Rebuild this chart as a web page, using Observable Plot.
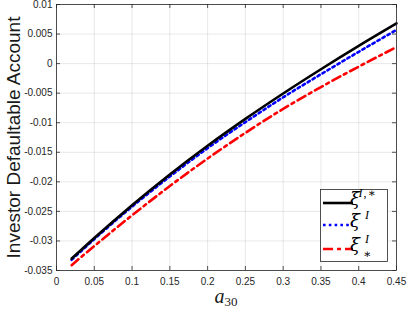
<!DOCTYPE html>
<html><head><meta charset="utf-8">
<script src="https://cdn.jsdelivr.net/npm/d3@7"></script>
<script src="https://cdn.jsdelivr.net/npm/@observablehq/plot@0.6"></script>
<style>html,body{margin:0;padding:0;background:#fff} svg{display:block}</style>
</head><body><div id="chart"></div>
<script>
const a30 = [0.02, 0.05, 0.10, 0.15, 0.20, 0.25, 0.30, 0.35, 0.40, 0.45];
const xiIStar = [-0.0330, -0.0295, -0.02395, -0.01875, -0.0139, -0.00935, -0.00505, -0.00095, 0.0030, 0.0068];
const xiI     = [-0.0332, -0.0297, -0.0242, -0.0191, -0.0143, -0.0099, -0.0057, -0.0018, 0.0020, 0.0057];
const xiStarI = [-0.0341, -0.03086, -0.02566, -0.02071, -0.01606, -0.01171, -0.00766, -0.00396, -0.00051, 0.0028];
const xTicks = [0, 0.05, 0.10, 0.15, 0.20, 0.25, 0.30, 0.35, 0.40, 0.45];
const xTickLabels = ["0", "0.05", "0.1", "0.15", "0.2", "0.25", "0.3", "0.35", "0.4", "0.45"];
const yTicks = [-0.035, -0.03, -0.025, -0.02, -0.015, -0.01, -0.005, 0, 0.005, 0.01];
const yTickLabels = ["-0.035", "-0.03", "-0.025", "-0.02", "-0.015", "-0.01", "-0.005", "0", "0.005", "0.01"];
const yLabel = "Investor Defaultable Account";

const W = 407, H = 309, mL = 56, mR = 11, mT = 4, mB = 39;
const fw = W - mL - mR, fh = H - mT - mB;
const axisColor = "#262626";

const mk = (vals) => a30.map((a, i) => ({a, v: vals[i]}));

const plot = Plot.plot({
  width: W, height: H,
  marginLeft: mL, marginRight: mR, marginTop: mT, marginBottom: mB,
  style: {fontFamily: "'Liberation Sans', Arial, sans-serif", background: "#fff", overflow: "visible"},
  x: {domain: [0, 0.45]},
  y: {domain: [-0.035, 0.01]},
  marks: [
    Plot.gridX(xTicks, {stroke: "#000", strokeOpacity: 0.12, strokeWidth: 0.8}),
    Plot.gridY(yTicks, {stroke: "#000", strokeOpacity: 0.12, strokeWidth: 0.8}),
    Plot.ruleX(xTicks, {insetTop: fh - 4, stroke: axisColor, strokeWidth: 0.8}),
    Plot.ruleX(xTicks, {insetBottom: fh - 4, stroke: axisColor, strokeWidth: 0.8}),
    Plot.ruleY(yTicks, {insetRight: fw - 4, stroke: axisColor, strokeWidth: 0.8}),
    Plot.ruleY(yTicks, {insetLeft: fw - 4, stroke: axisColor, strokeWidth: 0.8}),
    Plot.axisX(xTicks, {tickSize: 0, tickPadding: 7, fontSize: 10, fill: axisColor, label: null,
      tickFormat: d => xTickLabels[xTicks.indexOf(d)]}),
    Plot.axisY(yTicks, {tickSize: 0, tickPadding: 4, fontSize: 10, fill: axisColor, label: null,
      tickFormat: d => yTickLabels[yTicks.indexOf(d)]}),
    Plot.line(mk(xiStarI), {x: "a", y: "v", stroke: "#ff0000", strokeWidth: 2.6, strokeDasharray: "9,4,3,4", curve: "monotone-x"}),
    Plot.line(mk(xiI), {x: "a", y: "v", stroke: "#0000ff", strokeWidth: 2.6, strokeDasharray: "2.6,3.2", curve: "monotone-x"}),
    Plot.line(mk(xiIStar), {x: "a", y: "v", stroke: "#000000", strokeWidth: 2.6, curve: "monotone-x"}),
    Plot.frame({stroke: axisColor, strokeWidth: 0.8}),
    Plot.text([yLabel], {frameAnchor: "left", rotate: -90, dx: -43, fontSize: 19, fill: "#1a1a1a",
      textAnchor: "middle", lineAnchor: "middle", text: d => d})
  ]
});
document.getElementById("chart").appendChild(plot);

const svg = d3.select(plot);
const serif = "'Liberation Serif', 'DejaVu Serif', 'Times New Roman', serif";
const greek = "'DejaVu Serif', serif";
// x-axis label a_30
const xl = svg.append("text")
  .attr("x", mL + fw / 2).attr("y", 303)
  .attr("text-anchor", "middle")
  .attr("font-family", serif).attr("fill", "#1a1a1a");
xl.append("tspan").attr("font-size", 20).attr("font-style", "italic").text("a");
xl.append("tspan").attr("font-size", 13).attr("dy", 2.5).text("30");

// legend
const lg = svg.append("g");
lg.append("rect").attr("x", 320.5).attr("y", 189.5).attr("width", 67).attr("height", 72)
  .attr("fill", "#fff").attr("stroke", axisColor).attr("stroke-width", 0.8);
const entries = [
  {y: 203, color: "#000000", dash: null, sup: "I,∗", sub: null},
  {y: 225, color: "#0000ff", dash: "2.6,3.2", sup: "I", sub: null},
  {y: 249, color: "#ff0000", dash: "10,4,4,4", sup: "I", sub: "∗"}
];
entries.forEach(e => {
  lg.append("line").attr("x1", 323).attr("x2", 353).attr("y1", e.y).attr("y2", e.y)
    .attr("stroke", e.color).attr("stroke-width", 2.6).attr("stroke-dasharray", e.dash);
  const t = lg.append("text").attr("x", 355).attr("y", e.y + 2).attr("fill", "#000");
  t.append("tspan").attr("font-family", greek).attr("font-size", 18)
    .attr("font-style", "italic").text("ξ");
  if (e.sup) {
    t.append("tspan").attr("x", 367.5).attr("y", e.y - 6).attr("font-family", serif)
      .attr("font-size", 12).attr("font-style", "italic").attr("letter-spacing", 1).text(e.sup);
  }
  if (e.sub) {
    t.append("tspan").attr("x", 367).attr("y", e.y + 9).attr("font-family", serif)
      .attr("font-size", 12).text(e.sub);
  }
});
</script>
</body></html>
